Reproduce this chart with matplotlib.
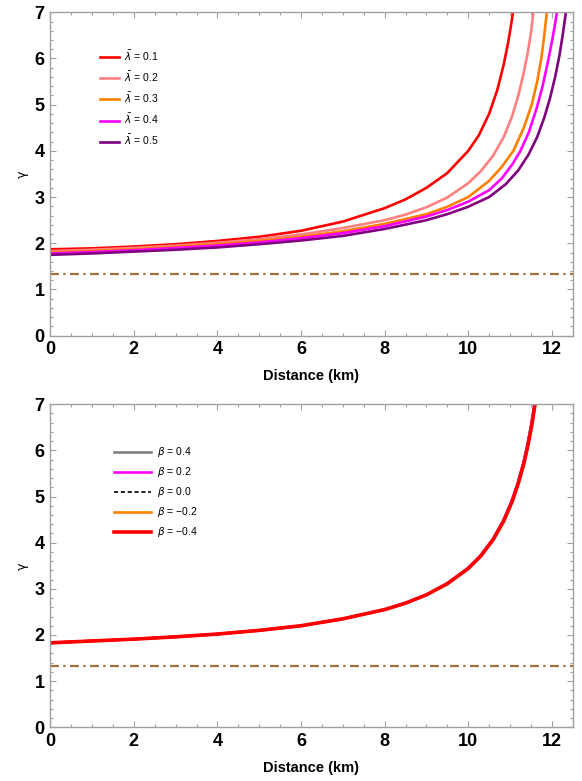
import matplotlib.pyplot as plt
from matplotlib.ticker import MultipleLocator

# ---- data ----
lam_labels = ["0.1", "0.2", "0.3", "0.4", "0.5"]
lam_colors = ["#ff0000", "#ff8080", "#ff8000", "#ff00ff", "#800080"]

red_x = [0, 1, 2, 3, 4, 5, 6, 7, 8, 8.5, 9, 9.5, 10, 10.25, 10.5, 10.7, 10.85, 10.95, 11.02, 11.08, 11.14]
red_y = [1.87, 1.89, 1.93, 1.98, 2.05, 2.14, 2.27, 2.47, 2.76, 2.95, 3.2, 3.52, 4.0, 4.33, 4.8,
         5.33, 5.87, 6.32, 6.69, 7.06, 7.48]

pink_x = [0, 1, 2, 3, 4, 5, 6, 7, 8, 8.5, 9, 9.5, 10, 10.3, 10.6, 10.85, 11.05, 11.2, 11.33,
          11.43, 11.5, 11.56, 11.61]
pink_y = [1.83, 1.86, 1.9, 1.95, 2.01, 2.09, 2.19, 2.33, 2.5, 2.62, 2.78, 2.99, 3.3, 3.56, 3.9,
          4.3, 4.75, 5.2, 5.7, 6.15, 6.55, 7.0, 7.4]

orange_x = [0, 1, 2, 3, 4, 5, 6, 7, 8, 9, 9.5, 10, 10.5, 10.8, 11.08, 11.33, 11.52, 11.65,
            11.75, 11.82, 11.88, 11.92]
orange_y = [1.80, 1.83, 1.87, 1.92, 1.98, 2.05, 2.14, 2.26, 2.42, 2.63, 2.79, 3.0, 3.35, 3.65,
            4.0, 4.5, 5.0, 5.5, 6.0, 6.5, 7.0, 7.35]

magenta_x = [0, 1, 2, 3, 4, 5, 6, 7, 8, 9, 9.5, 10, 10.5, 10.8, 11.05, 11.25, 11.45, 11.63,
             11.78, 11.9, 12.0, 12.07, 12.13, 12.18]
magenta_y = [1.78, 1.81, 1.85, 1.9, 1.95, 2.02, 2.11, 2.22, 2.37, 2.58, 2.72, 2.9, 3.15, 3.4,
             3.7, 4.0, 4.4, 4.9, 5.4, 5.9, 6.35, 6.7, 7.05, 7.4]

purple_x = [0, 1, 2, 3, 4, 5, 6, 7, 8, 9, 9.5, 10, 10.5, 10.9, 11.2, 11.45, 11.65, 11.82, 11.96,
            12.08, 12.18, 12.26, 12.33, 12.4]
purple_y = [1.75, 1.78, 1.82, 1.86, 1.91, 1.98, 2.06, 2.16, 2.31, 2.5, 2.63, 2.79, 3.0, 3.28,
            3.58, 3.93, 4.3, 4.72, 5.15, 5.6, 6.05, 6.5, 6.95, 7.45]

beta_labels = ["0.4", "0.2", "0.0", "\u22120.2", "\u22120.4"]
beta_colors = ["#808080", "#ff00ff", "black", "#ff8000", "#ff0000"]
beta_x = [0, 1, 2, 3, 4, 5, 6, 7, 8, 8.5, 9, 9.5, 10, 10.3, 10.6, 10.85, 11.05, 11.2, 11.33,
          11.43, 11.52, 11.6, 11.66]
beta_y = [1.83, 1.87, 1.91, 1.96, 2.02, 2.1, 2.2, 2.35, 2.55, 2.69, 2.87, 3.11, 3.44, 3.71, 4.07,
          4.47, 4.89, 5.29, 5.71, 6.11, 6.54, 7.0, 7.39]

gamma_crit = 4 / 3

lam_curves = [(red_x, red_y), (pink_x, pink_y), (orange_x, orange_y),
              (magenta_x, magenta_y), (purple_x, purple_y)]

plt.rcParams['font.family'] = ['Liberation Sans', 'DejaVu Sans']
plt.rcParams['mathtext.fontset'] = 'dejavusans'

fig = plt.figure(figsize=(5.82, 7.81), dpi=100)
ax1 = fig.add_axes([0.0864, 0.5702, 0.8976, 0.4141])
ax2 = fig.add_axes([0.0864, 0.0688, 0.8976, 0.4136])


def style(ax):
    ax.set_xlim(0, 12.5)
    ax.set_ylim(0, 7)
    ax.xaxis.set_major_locator(MultipleLocator(2))
    ax.xaxis.set_minor_locator(MultipleLocator(0.5))
    ax.yaxis.set_major_locator(MultipleLocator(1))
    ax.yaxis.set_minor_locator(MultipleLocator(0.2))
    for s in ax.spines.values():
        s.set_color("#a0a0a0")
        s.set_linewidth(1.0)
    ax.tick_params(which="both", direction="in", top=True, right=True,
                   color="#a0a0a0", width=0.8)
    ax.tick_params(which="major", length=4.5, labelsize=13, pad=4)
    ax.tick_params(which="minor", length=2.5)
    for lab in ax.get_xticklabels() + ax.get_yticklabels():
        lab.set_fontweight("bold")
    ax.set_xlabel("Distance (km)", fontsize=10.5, fontweight="bold", labelpad=8)
    ax.set_ylabel("\u03b3", fontsize=9, labelpad=4, family="DejaVu Sans")
    ax.axhline(gamma_crit, color="#a0703a", lw=1.6, ls=(0, (4, 2, 1, 2)), zorder=1)


# ---- top panel ----
for (x, y), c, lab in zip(lam_curves, lam_colors, lam_labels):
    ax1.plot(x, y, color=c, lw=1.9, label=r"$\bar{\lambda}$ = " + lab)
style(ax1)
ax1.legend(loc="upper left", bbox_to_anchor=(0.078, 0.916), frameon=False,
           fontsize=7.5, handlelength=1.8, handletextpad=0.5, labelspacing=0.67)

# ---- bottom panel ----
for i, (c, lab) in enumerate(zip(beta_colors, beta_labels)):
    ls = (0, (2.5, 1.6)) if lab == "0.0" else "-"
    lw = 1.2 if lab == "0.0" else (2.6 if i == 4 else 1.9)
    bx = [v - 0.015 * (i < 2) * (yy > 3) for v, yy in zip(beta_x, beta_y)]
    ax2.plot(bx, beta_y, color=c, lw=lw, ls=ls, label=r"$\beta$ = " + lab)
style(ax2)
ax2.legend(loc="upper left", bbox_to_anchor=(0.104, 0.902), frameon=False,
           fontsize=7.5, handlelength=3.6, handletextpad=0.5, labelspacing=0.58)

fig.savefig("out.png", dpi=100)
